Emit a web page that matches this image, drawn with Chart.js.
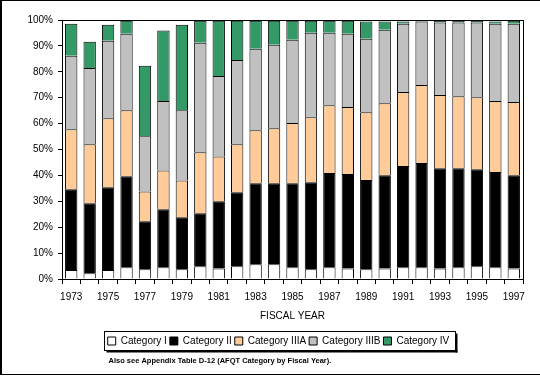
<!DOCTYPE html>
<html>
<head>
<meta charset="utf-8">
<script src="https://cdn.jsdelivr.net/npm/chart.js@4.4.1/dist/chart.umd.min.js"></script>
<style>
  html, body { margin: 0; padding: 0; background: #fff; }
  #wrap { width: 540px; height: 376px; }
</style>
</head>
<body>
<div id="wrap"><canvas id="myChart" width="540" height="376"></canvas></div>
<script>
// fiscal years on the x axis
const years = ['1973','1974','1975','1976','1977','1978','1979','1980','1981','1982','1983','1984','1985',
  '1986','1987','1988','1989','1990','1991','1992','1993','1994','1995','1996','1997']

// percent of accessions per AFQT category
const catI    = [3.5, 2.2, 3.5, 4.5, 3.8, 4.5, 3.8, 4.9, 4.1, 4.9, 5.7, 5.7, 4.5, 3.8, 4.5, 4.1, 3.8, 4.1, 4.5, 4.5, 4.1, 4.5, 4.9, 4.5, 4.1]
const catII   = [31.2, 27.0, 31.9, 35.2, 18.5, 22.4, 20.0, 20.5, 25.9, 28.6, 31.3, 31.3, 32.5, 33.6, 36.4, 36.4, 34.4, 36.0, 39.1, 40.3, 38.7, 38.3, 37.5, 36.8, 36.0]
const catIIIA = [23.1, 22.8, 26.7, 25.5, 11.5, 15.0, 14.2, 23.5, 17.3, 18.5, 20.4, 21.2, 23.2, 25.1, 26.2, 25.9, 26.2, 27.8, 28.6, 30.1, 28.2, 27.8, 27.8, 27.4, 28.2]
const catIIIB = [28.4, 29.5, 29.9, 29.5, 21.3, 26.8, 27.2, 42.3, 31.1, 32.6, 31.5, 32.2, 32.2, 32.6, 28.0, 28.3, 28.4, 28.3, 26.4, 24.5, 28.0, 28.4, 28.8, 29.9, 30.3]
const catIV   = [12.4, 10.1, 6.2, 5.0, 27.2, 27.2, 33.0, 8.5, 21.3, 15.1, 10.8, 9.3, 7.3, 4.6, 4.6, 5.0, 6.6, 3.2, 0.8, 0.5, 0.7, 0.7, 0.7, 0.8, 1.1]

const seriesNames = ['Category I', 'Category II', 'Category IIIA', 'Category IIIB', 'Category IV']
const footnote = 'Also see Appendix Table D-12 (AFQT Category by Fiscal Year).'

const colores = ['#ffffff', '#000000', '#ffcc99', '#c0c0c0', '#339966']
const valores = [catI, catII, catIIIA, catIIIB, catIV]

const fontBase = { family: 'Arial, "Liberation Sans", sans-serif', size: 10 }

// marco del grafico, caja de la leyenda y nota al pie
const extras = {
  id: 'extras',
  afterLayout(chart) {
    // que las etiquetas del eje y no se recorten
    chart.scales.y.left = 0
  },
  afterDraw(chart) {
    const ctx = chart.ctx
    const a = chart.chartArea
    ctx.save()
    ctx.strokeStyle = '#000'
    ctx.lineWidth = 1
    ctx.strokeRect(Math.round(a.left) + 0.5, Math.round(a.top) + 0.5, Math.round(a.right - a.left), Math.round(a.bottom - a.top))

    // caja de la leyenda con sombra
    const boxes = chart.legend.legendHitBoxes
    if (boxes && boxes.length) {
      let x0 = Infinity, x1 = -Infinity, y0 = Infinity, y1 = -Infinity
      boxes.forEach(b => {
        x0 = Math.min(x0, b.left); x1 = Math.max(x1, b.left + b.width)
        y0 = Math.min(y0, b.top); y1 = Math.max(y1, b.top + b.height)
      })
      const bx = Math.round(x0 - 4) + 0.5
      const by = Math.round(y0 - 5) + 0.5
      const bw = Math.round(x1 - x0 + 9)
      const bh = Math.round(y1 - y0 + 9)
      ctx.fillStyle = '#000'
      ctx.fillRect(bx + 2, by + bh, bw, 2)
      ctx.fillRect(bx + bw, by + 2, 2, bh)
      ctx.strokeRect(bx, by, bw, bh)

      ctx.fillStyle = '#000'
      ctx.font = 'bold 7.5px Arial, "Liberation Sans", sans-serif'
      ctx.textBaseline = 'middle'
      ctx.textAlign = 'left'
      ctx.fillText(footnote, bx + 4, by + bh + 10)
    }

    // borde exterior
    ctx.fillStyle = '#000'
    ctx.fillRect(0, 0, 540, 1)
    ctx.fillRect(0, 0, 2, 375)
    ctx.fillRect(0, 374, 540, 1)
    ctx.restore()
  }
}

const ctx = document.getElementById('myChart').getContext('2d')
const myChart = new Chart(ctx, {
  type: 'bar',
  data: {
    labels: years,
    datasets: seriesNames.map((name, i) => ({
      label: name,
      data: valores[i],
      backgroundColor: colores[i],
      borderColor: '#000000',
      borderWidth: 1,
      categoryPercentage: 0.67,
      barPercentage: 1
    }))
  },
  options: {
    responsive: false,
    animation: false,
    devicePixelRatio: 1,
    layout: { padding: { top: 20, left: 34, right: 17, bottom: 20 } },
    plugins: {
      tooltip: { enabled: false },
      legend: {
        position: 'bottom',
        labels: {
          boxWidth: 8,
          boxHeight: 8,
          padding: 3,
          color: '#000',
          font: fontBase
        }
      }
    },
    scales: {
      x: {
        stacked: true,
        grid: { drawOnChartArea: false, color: '#000', tickLength: 5, offset: true },
        border: { color: '#000' },
        ticks: {
          color: '#000',
          font: fontBase,
          autoSkip: false,
          maxRotation: 0,
          padding: 7,
          callback: function (val, idx) { return idx % 2 === 0 ? this.getLabelForValue(val) : '' }
        },
        title: { display: true, text: 'FISCAL YEAR', color: '#000', font: fontBase, padding: { top: 8, bottom: 11 } },
        afterFit: (scale) => { scale.height = 54 }
      },
      y: {
        stacked: true,
        min: 0,
        max: 100,
        grid: { drawOnChartArea: false, color: '#000', tickLength: 4 },
        border: { color: '#000' },
        ticks: {
          stepSize: 10,
          color: '#000',
          font: fontBase,
          padding: 5,
          callback: (v) => v + '%'
        },
        afterFit: (scale) => { scale.width = 28 }
      }
    }
  },
  plugins: [extras]
})
</script>
</body>
</html>
